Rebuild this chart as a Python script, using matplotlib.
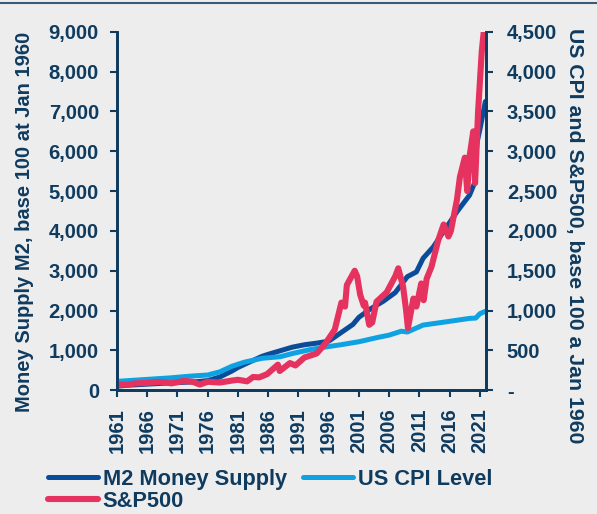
import numpy as np
import matplotlib
matplotlib.use("Agg")
import matplotlib.pyplot as plt
from matplotlib.lines import Line2D
from matplotlib.ticker import FuncFormatter

plt.rcParams['font.family'] = ['Liberation Sans', 'DejaVu Sans']

# M2 money supply, base 100 (left axis)
m2_years = [1961, 1963, 1966, 1969, 1971, 1974, 1976, 1978, 1980, 1981, 1983, 1985, 1986,
            1988, 1990, 1992, 1994, 1996, 1998, 2000, 2001, 2003, 2005, 2007, 2008, 2009,
            2010.5, 2011.6, 2013.3, 2015.5, 2017.2, 2019.3, 2020.1, 2020.5, 2021, 2021.9]
m2_vals = [100, 125, 150, 175, 190, 210, 240, 330, 480, 570, 712, 850, 900,
           990, 1080, 1140, 1180, 1230, 1440, 1650, 1830, 2050, 2230, 2450, 2650, 2850,
           2970, 3310, 3600, 4100, 4480, 4900, 5200, 6200, 6550, 7250]

# US CPI, base 100 (right axis)
cpi_years = [1961, 1965, 1970, 1973, 1976, 1978, 1980, 1982, 1985, 1988, 1990, 1993, 1995,
             1998, 2001, 2004, 2006, 2008, 2009, 2011.6, 2015.5, 2019.3, 2020.3, 2021, 2021.9]
cpi_vals = [110, 130, 155, 175, 190, 230, 300, 350, 400, 420, 460, 510, 536,
            570, 608, 660, 691, 740, 730, 817, 859, 901, 905, 960, 990]

# S&P500 level (right axis)
spx_years = [1961, 1963, 1964, 1966, 1968, 1970, 1972, 1973.5, 1974.7, 1976, 1978, 1980,
             1981, 1982.5, 1983.5, 1984.5, 1985.8, 1987.6, 1987.9, 1989.6, 1990.5, 1992,
             1994, 1995.5, 1997, 1998.1, 1998.7, 1999, 2000.3, 2000.7, 2001.2, 2001.8,
             2002, 2002.7, 2003.2, 2003.9, 2005.6, 2007, 2007.5, 2008.3, 2008.8, 2009.1,
             2010, 2010.5, 2011.3, 2011.7, 2012.2, 2013, 2014.1, 2015, 2015.8, 2016.2,
             2017.2, 2017.7, 2018.5, 2018.9, 2019.3, 2019.9, 2020.2, 2020.7, 2021.3, 2021.9]
spx_vals = [65, 70, 85, 90, 105, 85, 115, 105, 70, 105, 95, 120,
            130, 110, 165, 160, 200, 320, 240, 340, 310, 410,
            460, 590, 760, 1100, 1050, 1320, 1500, 1430, 1200, 1060,
            1100, 820, 850, 1110, 1230, 1430, 1530, 1300, 1000, 780,
            1150, 1050, 1340, 1130, 1400, 1550, 1880, 2080, 1930, 2000,
            2390, 2680, 2920, 2500, 2940, 3250, 2600, 3500, 4250, 4700]

x_ticks = list(range(1961, 2022, 5))

bg = '#ededed'
navy = '#0f3b5f'

fig = plt.figure(figsize=(5.97, 5.14), dpi=100, facecolor=bg)
ax = fig.add_axes([0.196, 0.241, 0.618, 0.697], facecolor=bg)
ax2 = ax.twinx()

l1, = ax.plot(m2_years, m2_vals, color='#0a4c99', lw=3.6, solid_capstyle='round',
              label='M2 Money Supply')
l2, = ax2.plot(cpi_years, cpi_vals, color='#0ea2e2', lw=3.6, solid_capstyle='round',
               label='US CPI Level')
l3, = ax2.plot(spx_years, spx_vals, color='#e6325e', lw=4.4, solid_capstyle='round',
               label='S&P500')

ax.set_xlim(1961, 2022)
ax.set_ylim(0, 9000)
ax2.set_ylim(0, 4500)
ax.set_xticks(x_ticks)
ax.set_xticklabels([str(y) for y in x_ticks], rotation=90)
ax.set_yticks(range(0, 9001, 1000))
ax2.set_yticks(range(0, 4501, 500))
ax.yaxis.set_major_formatter(FuncFormatter(lambda v, p: f'{int(v):,}'))
ax2.yaxis.set_major_formatter(FuncFormatter(lambda v, p: '-' if v == 0 else f'{int(v):,}'))

for a in (ax, ax2):
    a.tick_params(colors=navy, labelsize=14.5, width=1.5, length=5)
    for s in a.spines.values():
        s.set_color(navy)
        s.set_linewidth(2)
    a.spines['top'].set_visible(False)
    for t in a.get_xticklabels() + a.get_yticklabels():
        t.set_fontweight('bold')
ax.tick_params(axis='x', labelsize=14.5, pad=8)
ax.tick_params(axis='y', pad=8)
ax2.tick_params(axis='y', pad=10)
ax2.set_facecolor('none')

ax.set_ylabel('Money Supply M2, base 100 at Jan 1960', fontsize=14.5, color=navy,
              fontweight='bold')
ax.yaxis.set_label_coords(-0.225, 0.47)
ax2.set_ylabel('US CPI and S&P500, base 100 a Jan 1960', fontsize=15.3, color=navy,
               fontweight='bold', rotation=270)
ax2.yaxis.set_label_coords(1.265, 0.43)

leg = fig.legend(handles=[l1, l3, l2], loc='upper left', bbox_to_anchor=(0.066, 0.105),
                 ncol=2, frameon=False, handlelength=2.3, handletextpad=0.2,
                 columnspacing=0.75, labelspacing=0.05, borderaxespad=0,
                 prop={'size': 15.7, 'weight': 'bold'})
for t in leg.get_texts():
    t.set_color(navy)

fig.add_artist(Line2D([0, 1], [0.994, 0.994], color='#3a5a7a', lw=1.5,
                      transform=fig.transFigure))

fig.savefig('out.png', dpi=100, facecolor=bg)
